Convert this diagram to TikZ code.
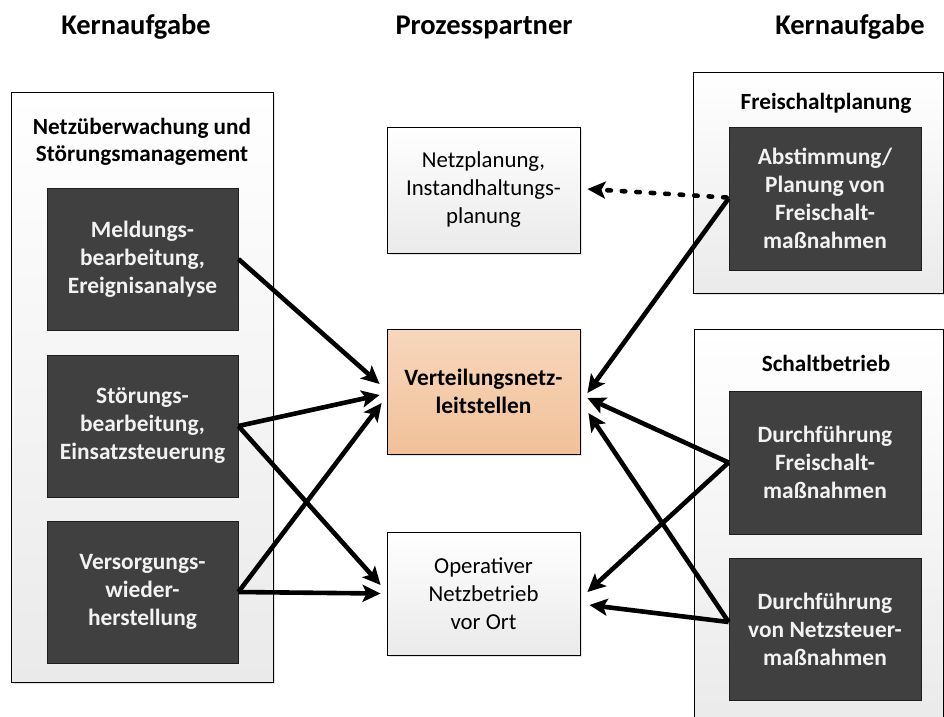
\documentclass[tikz,border=0pt]{standalone}
\usepackage{fontspec}
\setmainfont{Carlito}
\usetikzlibrary{arrows.meta,shadows,calc}
\definecolor{darkbox}{RGB}{64,64,64}
\definecolor{darkedge}{RGB}{30,30,30}
\definecolor{boxtext}{RGB}{242,242,242}
\definecolor{orangetop}{RGB}{248,215,188}
\definecolor{orangebot}{RGB}{241,193,153}
\definecolor{lightbot}{RGB}{234,234,234}

\begin{document}
\begin{tikzpicture}[x=1pt,y=-1pt,
  panel/.style={draw=black, line width=0.8pt, top color=white, bottom color=lightbot,
    drop shadow={shadow xshift=2pt, shadow yshift=-2pt, opacity=0.22},
    rectangle, inner sep=0pt},
  task/.style={draw=darkedge, line width=0.8pt, fill=darkbox, text=boxtext,
    font=\bfseries\fontsize{23.4}{28}\selectfont, align=center, inner sep=0pt,
    minimum width=191pt, minimum height=142pt},
  partner/.style={panel, font=\fontsize{22.8}{28}\selectfont, align=center,
    minimum width=193pt, minimum height=125pt},
  hub/.style={partner, top color=orangetop, bottom color=orangebot,
    font=\bfseries\fontsize{23.4}{28}\selectfont},
  heading/.style={font=\bfseries\fontsize{28.5}{32}\selectfont},
  paneltitle/.style={font=\bfseries\fontsize{23.2}{27}\selectfont, align=center},
  link/.style={line width=4.6pt, -{Stealth[length=18pt,width=17pt,inset=4pt]}},
  plannedlink/.style={link, line cap=round, dash pattern=on 3.5pt off 11pt}
]
\useasboundingbox (0,0) rectangle (944,716);
\fill[white] (0,0) rectangle (944,716);

% column headings
\node[heading] (h1) at (136,27) {Kernaufgabe};
\node[heading] (h2) at (484,27) {Prozesspartner};
\node[heading] (h3) at (850,27) {Kernaufgabe};

% left panel: network monitoring
\node[panel, minimum width=262pt, minimum height=590pt] (lp) at (142,387) {};
\node[paneltitle] (lpt) at (142,141.5) {Netzüberwachung und\\Störungsmanagement};
\node[task] (meld) at (142.5,259) {Meldungs-\\bearbeitung,\\Ereignisanalyse};
\node[task] (stoer) at (142.5,426) {Störungs-\\bearbeitung,\\Einsatzsteuerung};
\node[task] (vers) at (142.5,592) {Versorgungs-\\wieder-\\herstellung};

% process partners
\node[partner, minimum height=126pt] (np) at (483.5,190) {Netzplanung,\\Instandhaltungs-\\planung};
\node[hub] (vnl) at (483.5,391.5) {Verteilungsnetz-\\leitstellen};
\node[partner, minimum height=123pt] (op) at (483.5,593.5) {Operativer\\Netzbetrieb\\vor Ort};

% right panels
\node[panel, minimum width=250pt, minimum height=221pt] (rp1) at (818,182.5) {};
\node[paneltitle] (rp1t) at (826,103) {Freischaltplanung};
\node[task, minimum width=192pt, minimum height=143pt] (abst) at (825,198.5) {Abstimmung/\\Planung von\\Freischalt-\\maßnahmen};

\node[panel, minimum width=249pt, minimum height=401pt] (rp2) at (818.5,529.5) {};
\node[paneltitle] (rp2t) at (826,363) {Schaltbetrieb};
\node[task, minimum width=192pt, minimum height=143pt] (frei) at (825,462.5) {Durchführung\\Freischalt-\\maßnahmen};
\node[task, minimum width=192pt, minimum height=142pt] (steu) at (825,629) {Durchführung\\von Netzsteuer-\\maßnahmen};

% connectors from the left
\draw[link] (meld.east) -- ($(vnl.west)+(-7,-7.5)$);
\draw[link] (stoer.east) -- ($(vnl.west)+(-7,3.5)$);
\draw[link] (stoer.east) -- ($(op.west)+(-6,-8.5)$);
\draw[link] (vers.east) -- ($(vnl.west)+(-5,11.5)$);
\draw[link] (vers.east) -- ($(op.west)+(-6,0)$);

% connectors from the right
\draw[plannedlink] ($(abst.west)+(-2,-1)$) -- ($(np.east)+(7,-1)$);
\draw[link] (abst.west) -- ($(vnl.east)+(7,1.5)$);
\draw[link] (frei.west) -- ($(vnl.east)+(7,6.5)$);
\draw[link] (frei.west) -- ($(op.east)+(7,-1.5)$);
\draw[link] ($(steu.west)+(0,-7)$) -- ($(vnl.east)+(8,21.5)$);
\draw[link] ($(steu.west)+(0,-7)$) -- ($(op.east)+(9,11.5)$);
\end{tikzpicture}
\end{document}
